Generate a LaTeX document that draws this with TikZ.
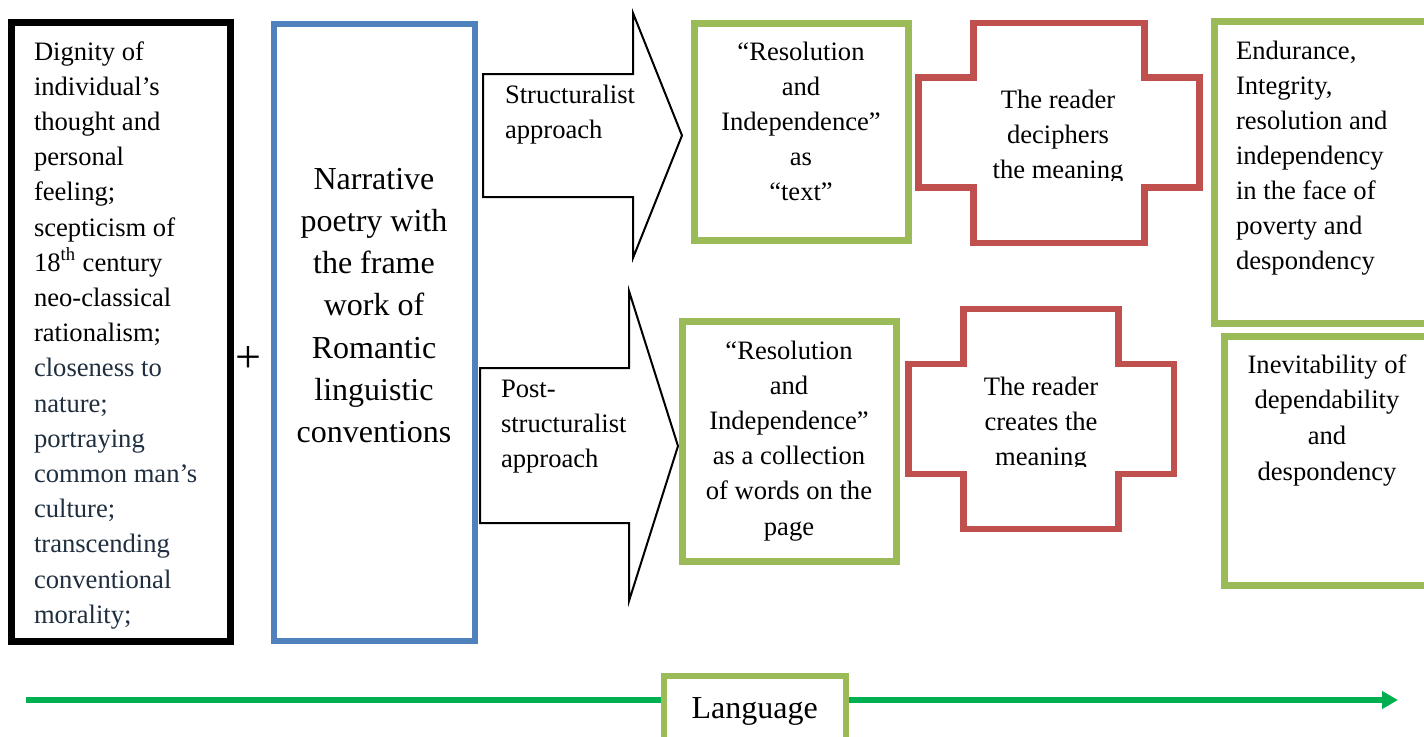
\documentclass[tikz,border=0pt]{standalone}
\usepackage{fontspec}
\setmainfont{Liberation Serif}
\usetikzlibrary{arrows.meta,fit}
\definecolor{cblue}{HTML}{4F81BD}
\definecolor{cgreen}{HTML}{9BBB59}
\definecolor{cred}{HTML}{C0504D}
\definecolor{cnavy}{HTML}{1F2F3F}
\definecolor{carrow}{HTML}{00B050}
\newcommand{\bodyfont}{\fontsize{13.3pt}{17.6pt}\selectfont}
\newcommand{\bigfont}{\fontsize{16pt}{21.15pt}\selectfont}
\begin{document}
\begin{tikzpicture}[x=0.5pt,y=-0.5pt,
  frame/.style={draw, inner sep=0pt, outer sep=0pt},
  blackframe/.style={frame, draw=black, line width=3.5pt},
  blueframe/.style={frame, draw=cblue, line width=3pt},
  greenframe/.style={frame, draw=cgreen, line width=3.5pt, fill=white},
  crossline/.style={draw=cred, line width=3.4pt},
  blockarrow/.style={draw=black, line width=1pt, line join=miter},
  tx/.style={inner sep=0pt, outer sep=0pt}
]
\fill[white] (0,0) rectangle (1424,736);
\useasboundingbox (0,0) rectangle (1424,736);

% left boxes
\node[blackframe, fit={(11.5,22.5) (230,641.5)}] (bbox) {};
\node[blueframe, fit={(274,23.5) (474.5,641)}] (nbox) {};
\node[tx, anchor=base west] (btext) at (34,60) {\parbox[t]{110pt}{\raggedright\bodyfont
Dignity of\\individual’s\\thought and\\personal\\feeling;\\scepticism of\\18\textsuperscript{th} century\\neo-classical\\rationalism;\\
\color{cnavy}closeness to\\nature;\\portraying\\common man’s\\culture;\\transcending\\conventional\\morality;}};
\node[tx] (plus) at (248,359.5) {\fontsize{23pt}{23pt}\selectfont +};
\node[tx, anchor=base] (ntext) at (374,189) {\parbox[t]{120pt}{\centering\bigfont
Narrative\\poetry with\\the frame\\work of\\Romantic\\linguistic\\conventions}};

% block arrows
\draw[blockarrow] (483,74) -- (633,74) -- (633,13) -- (682,135.5) -- (633,258) -- (633,197) -- (483,197) -- cycle;
\node[tx, anchor=base west] (a1text) at (505,103) {\parbox[t]{80pt}{\raggedright\bodyfont Structuralist\\approach}};
\draw[blockarrow] (480,368) -- (629,368) -- (629,291) -- (678,446) -- (629,601) -- (629,523) -- (480,523) -- cycle;
\node[tx, anchor=base west] (a2text) at (501,397) {\parbox[t]{80pt}{\raggedright\bodyfont Post-\\structuralist\\approach}};

% green text boxes
\node[greenframe, fit={(694.5,23) (908.5,240.5)}] (g1) {};
\node[tx, anchor=base] (g1text) at (801,60) {\parbox[t]{110pt}{\centering\bodyfont
“Resolution\\and\\Independence”\\as\\“text”}};
\node[greenframe, fit={(682.5,321.5) (896.5,561.5)}] (g2) {};
\node[tx, anchor=base] (g2text) at (789,359) {\parbox[t]{110pt}{\centering\bodyfont
“Resolution\\and\\Independence”\\as a collection\\of words on the\\page}};

% crosses
\draw[crossline] (973.5,23) -- (1144.5,23) -- (1144.5,77.5) -- (1199.5,77.5) -- (1199.5,187.5) -- (1144.5,187.5) -- (1144.5,243) -- (973.5,243) -- (973.5,187.5) -- (918.5,187.5) -- (918.5,77.5) -- (973.5,77.5) -- cycle;
\begin{scope}
\clip (922,81) rectangle (1196,180.3);
\node[tx, anchor=base] (c1text) at (1058,108) {\parbox[t]{110pt}{\centering\bodyfont
The reader\\deciphers\\the meaning}};
\end{scope}
\draw[crossline] (963.5,309) -- (1118.5,309) -- (1118.5,364) -- (1174,364) -- (1174,474) -- (1118.5,474) -- (1118.5,529) -- (963.5,529) -- (963.5,474) -- (908.5,474) -- (908.5,364) -- (963.5,364) -- cycle;
\begin{scope}
\clip (912,367) rectangle (1171,466.8);
\node[tx, anchor=base] (c2text) at (1041,395) {\parbox[t]{110pt}{\centering\bodyfont
The reader\\creates the\\meaning}};
\end{scope}

% right boxes
\node[greenframe, fit={(1214,21.5) (1440,323.5)}] (g3) {};
\node[tx, anchor=base west] (g3text) at (1236,59) {\parbox[t]{110pt}{\raggedright\fontsize{13.3pt}{17.55pt}\selectfont
Endurance,\\Integrity,\\resolution and\\independency\\in the face of\\poverty and\\despondency}};
\node[greenframe, fit={(1224,336.5) (1440,585)}] (g4) {};
\node[tx, anchor=base] (g4text) at (1327,373) {\parbox[t]{110pt}{\centering\fontsize{13.3pt}{17.85pt}\selectfont
Inevitability of\\dependability\\and\\despondency}};

% language axis
\coordinate (lstart) at (26,700);
\coordinate (lend) at (1398,700);
\draw[carrow, line width=3.2pt, -{Triangle[length=8pt,width=8.5pt]}] (lstart) -- (lend);
\node[frame, draw=cgreen, line width=3pt, fill=white, fit={(663.5,676) (846,780)}] (lang) {};
\node[tx, anchor=base] (langtext) at (754.75,718) {\fontsize{16pt}{18pt}\selectfont Language};
\end{tikzpicture}
\end{document}
